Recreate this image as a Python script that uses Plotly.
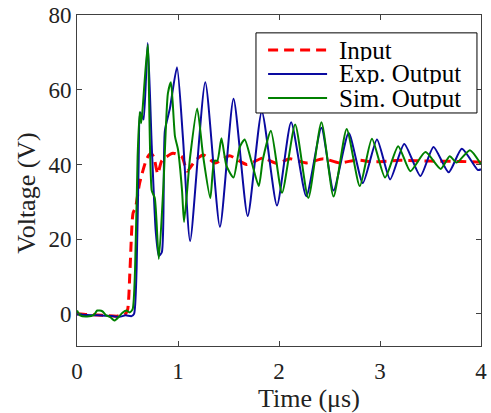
import plotly.graph_objects as go

# ---------------- data ----------------
t_in = [0, 0.1, 0.2, 0.3, 0.4, 0.47, 0.50, 0.525, 0.555, 0.58, 0.62, 0.69, 0.73, 0.76, 0.80,
        0.84, 0.95, 1.04, 1.09, 1.17, 1.25, 1.37, 1.51, 1.68, 1.84, 1.98, 2.11, 2.27, 2.44,
        2.60, 2.77, 2.93, 3.2, 3.5, 3.8, 4.0]
v_in = [0, -0.2, -0.3, -0.5, -0.6, -0.3, 1, 12, 27, 28.5, 35, 41.5, 43, 42, 37.5,
        41, 43, 42, 38.2, 41, 42.5, 40.4, 42.3, 40, 41.7, 40.3, 41.5, 40.4, 41.5,
        40.4, 41.2, 40.7, 41.1, 40.9, 40.8, 40.6]

t_exp = [0, 0.1, 0.2, 0.28, 0.35, 0.42, 0.48, 0.54, 0.565, 0.59, 0.61, 0.625, 0.645, 0.66,
         0.70, 0.74, 0.78, 0.81, 0.84, 0.87, 0.92, 0.99, 1.05, 1.12, 1.27, 1.415, 1.55,
         1.69, 1.83, 1.98, 2.12, 2.27, 2.42, 2.54, 2.69, 2.83, 2.97, 3.10, 3.24, 3.40,
         3.53, 3.68, 3.81, 3.97, 4.0]
v_exp = [-0.2, -0.3, -0.4, -0.5, -0.6, -0.8, -0.4, -0.6, 0, 12, 40, 54, 53, 52,
         72.5, 45, 22, 15.5, 16.5, 49, 55, 66, 46.7, 19.5, 62, 23.3, 57.6,
         26.2, 54.2, 29, 51.3, 31.5, 49.8, 33, 48.4, 35, 46.7, 36, 45.5, 36.9,
         44.7, 37.9, 44.2, 38.5, 38.7]

t_sim = [0, 0.03, 0.1, 0.17, 0.2, 0.25, 0.29, 0.33, 0.37, 0.41, 0.45, 0.49, 0.52, 0.55,
         0.575, 0.60, 0.62, 0.635, 0.65, 0.70, 0.74, 0.77, 0.81, 0.855, 0.90, 0.93, 0.97,
         1.0, 1.04, 1.06, 1.12, 1.19, 1.25, 1.32, 1.36, 1.39, 1.43, 1.48, 1.55, 1.61, 1.66,
         1.73, 1.80, 1.84, 1.92, 2.03, 2.16, 2.29, 2.42, 2.54, 2.67, 2.80, 2.92, 3.05,
         3.18, 3.30, 3.45, 3.60, 3.69, 3.76, 3.89, 4.0]
v_sim = [0.9, -0.4, -0.7, -0.2, 0.9, 0.7, -0.4, -0.9, -1.8, -0.9, 0.3, 0.9, 0.4, 1.2,
         12, 42, 54, 51, 55, 72, 33, 31, 14.7, 34, 59, 62, 47.5,
         44, 33, 24.6, 42, 55, 42, 31, 41, 41, 47, 39.6, 36.5, 44.5, 46.7,
         40.5, 34.2, 41.3, 49, 32.4, 50.7, 31, 51.3, 31.4, 49.5, 34.2, 46.9, 36.5,
         44.9, 38.2, 43.3, 38.8, 42.2, 40.5, 43.8, 40]

series_names = ["Input", "Exp. Output", "Sim. Output"]
x_ticks = [0, 1, 2, 3, 4]
y_ticks = [0, 20, 40, 60, 80]
x_title = "Time (μs)"
y_title = "Voltage (V)"

# ---------------- styling ----------------
FONT = "Liberation Serif, Times New Roman, serif"
colors = ["#ff0000", "#0a0aa0", "#008000"]
dashes = ["10px,6px", "solid", "solid"]
widths = [3, 2, 2]

fig = go.Figure()
for name, t, v, c, d, w in zip(series_names, [t_in, t_exp, t_sim], [v_in, v_exp, v_sim],
                               colors, dashes, widths):
    fig.add_trace(go.Scatter(x=t, y=v, mode="lines", name=name,
                             line=dict(color=c, width=w, dash=d, shape="spline", smoothing=0.6),
                             showlegend=False, hoverinfo="skip"))

axis_common = dict(showline=True, linecolor="#404040", linewidth=1, mirror="ticks",
                   ticks="inside", ticklen=5, tickcolor="#404040", showgrid=False,
                   zeroline=False, automargin=False,
                   tickfont=dict(family=FONT, size=23, color="#222"))

fig.update_xaxes(range=[0, 4], tickvals=x_ticks, ticklabelstandoff=4, **axis_common)
fig.update_yaxes(range=[-8.6, 80], tickvals=y_ticks, ticklabelstandoff=0, **axis_common)

# axis titles
fig.add_annotation(xref="paper", yref="paper", x=0.574, y=-0.16, text=x_title,
                   showarrow=False, xanchor="center", yanchor="middle",
                   font=dict(family=FONT, size=26, color="#222"))
fig.add_annotation(xref="paper", yref="paper", x=-0.127, y=0.462, text=y_title,
                   showarrow=False, xanchor="center", yanchor="middle", textangle=-90,
                   font=dict(family=FONT, size=26, color="#222"))

# custom legend (box, sample lines, labels) in paper coordinates
L, R, T, B = 0.443, 0.990, 0.946, 0.704
rows = [0.894, 0.822, 0.749]
fig.add_shape(type="rect", xref="paper", yref="paper", x0=L, x1=R, y0=B, y1=T,
              line=dict(color="#000", width=1), fillcolor="white", layer="above")
for name, yy, c, d, w in zip(series_names, rows, colors, dashes, widths):
    fig.add_shape(type="line", xref="paper", yref="paper", x0=0.473, x1=0.619, y0=yy, y1=yy,
                  line=dict(color=c, width=w, dash=d), layer="above")
    fig.add_annotation(xref="paper", yref="paper", x=0.646, y=yy, text=name, showarrow=False,
                       xanchor="left", yanchor="middle", height=21, valign="middle",
                       borderpad=0, font=dict(family=FONT, size=25, color="#000"))

fig.update_layout(width=491, height=413, margin=dict(l=77, r=10, t=15, b=67),
                  plot_bgcolor="white", paper_bgcolor="white", hovermode=False)

fig.write_html("out.html", config={"displayModeBar": False},
               post_script="document.body.style.margin='0';document.body.style.overflow='hidden';")
